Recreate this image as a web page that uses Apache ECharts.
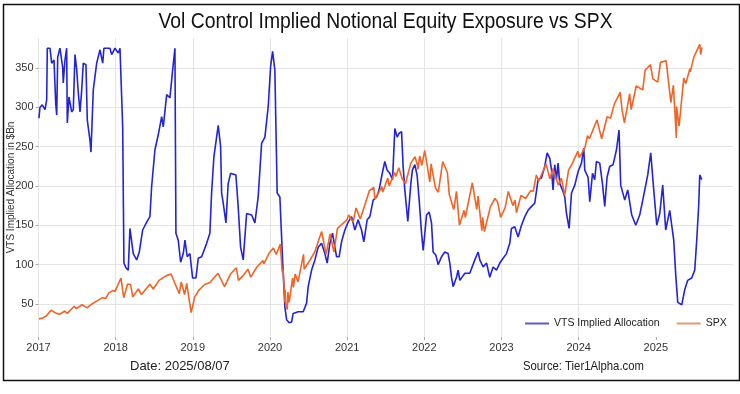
<!DOCTYPE html>
<html>
<head>
<meta charset="utf-8">
<script src="https://cdn.jsdelivr.net/npm/echarts@6/dist/echarts.min.js"></script>
<style>
html,body{margin:0;padding:0;background:#fff;}
#chart{width:740px;height:394px;}
</style>
</head>
<body>
<div id="chart"></div>
<script>
// ---- Data ----
const titleText = 'Vol Control Implied Notional Equity Exposure vs SPX';
const yAxisName = 'VTS Implied Allocation in $Bn';
const dateNote = 'Date: 2025/08/07';
const sourceNote = 'Source: Tier1Alpha.com';
const seriesNames = ['VTS Implied Allocation', 'SPX'];
const yearTicks = [2017, 2018, 2019, 2020, 2021, 2022, 2023, 2024, 2025];
const valueTicks = [50, 100, 150, 200, 250, 300, 350];

// VTS implied allocation: time as decimal year
const vtsTime = [
2017.006,2017.019,2017.049,2017.084,2017.106,2017.114,2017.149,2017.171,2017.201,2017.223,2017.236,2017.249,2017.278,2017.313,2017.321,2017.343,2017.365,2017.373,2017.395,2017.430,2017.451,2017.473,2017.495,2017.516,2017.538,2017.560,2017.580,2017.615,2017.632,2017.667,2017.680,2017.710,2017.754,2017.797,2017.832,2017.848,2017.926,2017.948,2017.991,2018.034,2018.056,2018.078,2018.091,2018.107,2018.133,2018.163,2018.185,2018.207,2018.228,2018.272,2018.306,2018.350,2018.402,2018.444,2018.466,2018.509,2018.552,2018.596,2018.617,2018.661,2018.703,2018.738,2018.768,2018.781,2018.811,2018.842,2018.876,2018.898,2018.927,2018.962,2018.997,2019.040,2019.070,2019.114,2019.179,2019.221,2019.243,2019.273,2019.329,2019.360,2019.373,2019.394,2019.429,2019.458,2019.490,2019.558,2019.588,2019.619,2019.653,2019.697,2019.762,2019.804,2019.847,2019.891,2019.934,2019.977,2020.008,2020.034,2020.063,2020.093,2020.128,2020.163,2020.193,2020.215,2020.249,2020.280,2020.300,2020.365,2020.430,2020.474,2020.495,2020.539,2020.582,2020.624,2020.668,2020.711,2020.741,2020.776,2020.811,2020.832,2020.863,2020.896,2020.927,2020.970,2021.013,2021.057,2021.100,2021.142,2021.186,2021.216,2021.259,2021.294,2021.337,2021.381,2021.414,2021.459,2021.488,2021.518,2021.553,2021.588,2021.618,2021.648,2021.674,2021.705,2021.725,2021.747,2021.786,2021.825,2021.845,2021.877,2021.899,2021.907,2021.933,2021.964,2021.985,2022.029,2022.062,2022.093,2022.114,2022.149,2022.179,2022.223,2022.265,2022.308,2022.330,2022.352,2022.373,2022.417,2022.438,2022.460,2022.525,2022.589,2022.654,2022.697,2022.719,2022.762,2022.806,2022.848,2022.891,2022.935,2022.978,2023.021,2023.065,2023.107,2023.129,2023.172,2023.215,2023.259,2023.302,2023.344,2023.389,2023.431,2023.474,2023.518,2023.561,2023.591,2023.626,2023.648,2023.668,2023.690,2023.712,2023.733,2023.755,2023.790,2023.820,2023.842,2023.876,2023.907,2023.950,2023.992,2024.036,2024.066,2024.079,2024.122,2024.144,2024.179,2024.208,2024.230,2024.273,2024.308,2024.338,2024.368,2024.403,2024.446,2024.490,2024.523,2024.545,2024.597,2024.636,2024.688,2024.740,2024.791,2024.843,2024.895,2024.934,2024.973,2025.012,2025.051,2025.089,2025.128,2025.180,2025.232,2025.258,2025.284,2025.336,2025.374,2025.413,2025.465,2025.504,2025.530,2025.556,2025.569,2025.595
];
const vtsValue = [
286,300,303,297,309,375,375,356,360,305,290,364,375,351,331,360,375,280,313,294,297,367,348,318,294,322,356,354,284,258,243,322,356,373,356,375,375,367,375,369,375,375,275,102,96,93,146,144,114,106,116,144,154,161,199,246,265,288,275,316,312,347,375,140,131,103,114,131,110,114,83,83,108,110,127,140,191,237,277,250,191,178,153,203,216,214,173,122,106,165,163,153,186,254,262,301,352,371,347,191,186,106,46,30,26,27,38,40,40,51,72,93,106,122,127,114,102,127,140,127,110,110,129,144,154,161,144,157,144,129,157,161,182,186,195,218,231,220,216,208,273,262,267,269,225,195,155,203,220,227,225,213,182,140,118,163,167,153,116,112,100,110,116,114,102,84,72,84,93,80,89,89,106,116,106,97,102,84,97,93,102,108,114,127,146,148,135,150,161,169,174,178,208,210,225,242,235,220,195,227,208,229,203,195,186,165,146,191,201,218,229,248,220,211,180,216,208,231,229,203,174,211,225,227,246,271,201,182,195,163,150,163,188,214,242,195,150,165,201,144,169,131,87,52,49,68,80,83,93,131,176,214,208
];

// SPX (scaled to the left axis in the reference)
const spxDate = [
'2017-01-03','2017-01-20','2017-02-08','2017-03-01','2017-03-27','2017-04-13','2017-05-05','2017-05-17','2017-06-19','2017-06-29','2017-07-26','2017-08-18','2017-09-11','2017-09-29','2017-10-31','2017-11-15','2017-11-30','2017-12-18','2017-12-29',
'2018-01-26','2018-02-08','2018-02-26','2018-03-12','2018-03-23','2018-04-18','2018-05-03','2018-06-12','2018-06-28','2018-07-25','2018-08-29','2018-09-20','2018-10-10','2018-10-29','2018-11-07','2018-11-23','2018-12-03','2018-12-24',
'2019-01-10','2019-01-31','2019-02-28','2019-03-22','2019-04-30','2019-05-31','2019-06-28','2019-07-26','2019-08-05','2019-08-30','2019-09-19','2019-10-02','2019-10-31','2019-11-29','2019-12-03','2019-12-27',
'2020-01-17','2020-01-31','2020-02-19','2020-02-28','2020-03-03','2020-03-12','2020-03-13','2020-03-16','2020-03-23','2020-03-26','2020-04-01','2020-04-17','2020-04-21','2020-04-29','2020-05-13','2020-06-08','2020-06-11','2020-06-30','2020-07-31','2020-09-02','2020-09-23','2020-10-12','2020-10-30','2020-11-16','2020-12-31',
'2021-01-08','2021-01-29','2021-02-12','2021-03-04','2021-03-26','2021-04-16','2021-05-07','2021-05-12','2021-06-14','2021-06-18','2021-07-12','2021-07-19','2021-08-13','2021-08-19','2021-09-02','2021-09-20','2021-10-04','2021-10-29','2021-11-18','2021-11-30','2021-12-01','2021-12-10','2021-12-20',
'2022-01-03','2022-01-27','2022-02-02','2022-02-23','2022-03-08','2022-03-29','2022-04-20','2022-04-29','2022-05-20','2022-06-02','2022-06-16','2022-07-08','2022-07-14','2022-08-16','2022-09-06','2022-09-12','2022-09-30','2022-10-04','2022-10-12','2022-11-10','2022-12-01','2022-12-13','2022-12-28',
'2023-01-18','2023-02-02','2023-02-24','2023-03-06','2023-03-13','2023-04-03','2023-04-25','2023-05-19','2023-05-31','2023-06-15','2023-06-26','2023-07-31','2023-08-18','2023-09-01','2023-09-27','2023-10-11','2023-10-27','2023-11-14','2023-12-01','2023-12-28',
'2024-01-04','2024-01-31','2024-02-12','2024-02-21','2024-03-28','2024-04-19','2024-05-15','2024-05-31','2024-06-18','2024-07-16','2024-07-25','2024-08-05','2024-08-30','2024-09-06','2024-09-30','2024-10-31','2024-11-11','2024-12-06','2024-12-18',
'2025-01-10','2025-01-23','2025-02-19','2025-03-13','2025-03-25','2025-04-08','2025-04-09','2025-04-21','2025-05-13','2025-05-23','2025-06-11','2025-06-13','2025-06-30','2025-07-28','2025-08-01','2025-08-07'
];
const spxValue = [
31,32,35,42,38,37,41,38,47,44,49,45,50,53,58,57,64,67,66,
83,58,75,75,59,69,62,75,69,80,86,88,75,63,78,62,76,39,
59,68,75,77,89,72,88,96,80,87,94,84,97,105,101,114,
121,113,126,90,94,52,68,47,43,65,52,83,71,88,78,113,94,102,116,142,113,139,116,146,157,
163,154,172,158,176,194,198,183,199,192,210,200,217,212,223,208,203,229,237,226,221,238,226,
245,205,228,197,192,231,217,189,170,193,150,169,160,204,170,187,143,160,142,174,184,180,160,
172,193,175,182,166,188,184,194,193,214,206,228,209,222,201,210,188,220,228,244,
236,249,264,260,284,260,288,286,304,319,296,280,317,297,327,322,347,354,336,
332,357,359,306,328,261,301,276,337,330,349,345,364,380,367,376
];

// ---- helpers ----
function decYear(s) {
  const p = s.split('-').map(Number);
  const t0 = Date.UTC(p[0], 0, 1), t1 = Date.UTC(p[0] + 1, 0, 1);
  return p[0] + (Date.UTC(p[0], p[1] - 1, p[2]) - t0) / (t1 - t0);
}
const vtsData = vtsTime.map((t, i) => [t, vtsValue[i]]);
const spxData = spxDate.map((d, i) => [decYear(d), spxValue[i]]);

const FONT = '"Liberation Sans", Arial, sans-serif';
const BLUE = '#2323d8';
const ORANGE = '#ef6427';

const chart = echarts.init(document.getElementById('chart'), null, {renderer: 'canvas'});
chart.setOption({
  animation: false,
  backgroundColor: '#ffffff',
  grid: {left: 38.5, right: 7, top: 38, bottom: 57, containLabel: false, outerBoundsMode: 'none'},
  legend: {
    data: [
      {name: seriesNames[0], itemStyle: {color: '#5c5cc0'}},
      {name: seriesNames[1], itemStyle: {color: '#e59a74'}}
    ],
    left: 520, top: 313, icon: 'rect', itemWidth: 24, itemHeight: 2, itemGap: 17,
    textStyle: {fontFamily: FONT, fontSize: 10.5, color: '#222'}
  },
  xAxis: {
    type: 'value', min: 2017, max: 2026, interval: 1,
    axisLine: {show: false},
    axisTick: {show: true, length: 3, lineStyle: {color: '#aaa'}, customValues: yearTicks},
    axisLabel: {fontFamily: FONT, fontSize: 11, color: '#333', margin: 5, showMaxLabel: false,
      formatter: v => String(v)},
    splitLine: {show: true, showMaxLine: false, showMinLine: true, lineStyle: {color: '#e4e4e4', width: 1}}
  },
  yAxis: {
    type: 'value', min: 8, max: 388, minInterval: 50, maxInterval: 50, splitNumber: 8,
    name: yAxisName, nameLocation: 'middle', nameGap: 22, nameRotate: 90, nameMoveOverlap: false,
    nameTextStyle: {fontFamily: FONT, fontSize: 10, color: '#333'},
    axisLine: {show: false},
    axisTick: {show: true, length: 3, lineStyle: {color: '#aaa'}, customValues: valueTicks},
    axisLabel: {fontFamily: FONT, fontSize: 11, color: '#333', margin: 5, customValues: valueTicks},
    splitLine: {show: true, lineStyle: {color: '#e4e4e4', width: 1}}
  },
  series: [
    {name: seriesNames[0], type: 'line', data: vtsData, showSymbol: false, color: BLUE,
     lineStyle: {color: BLUE, width: 1.6}},
    {name: seriesNames[1], type: 'line', data: spxData, showSymbol: false, color: ORANGE,
     lineStyle: {color: ORANGE, width: 1.6}}
  ],
  graphic: [
    {type: 'rect', left: 1, top: 2, shape: {width: 736, height: 376},
     style: {fill: null, stroke: '#111', lineWidth: 1.5}, silent: true, z: 100},
    {type: 'text', x: 385.5, y: 22, scaleX: 0.88,
     style: {text: titleText, font: '22px ' + FONT, fill: '#111', textAlign: 'center', textVerticalAlign: 'middle'}},
    {type: 'text', x: 130, y: 366, scaleX: 1.0,
     style: {text: dateNote, font: '13px ' + FONT, fill: '#222', textVerticalAlign: 'middle'}},
    {type: 'text', x: 523, y: 366, scaleX: 0.87,
     style: {text: sourceNote, font: '13px ' + FONT, fill: '#222', textVerticalAlign: 'middle'}}
  ]
});
</script>
</body>
</html>
